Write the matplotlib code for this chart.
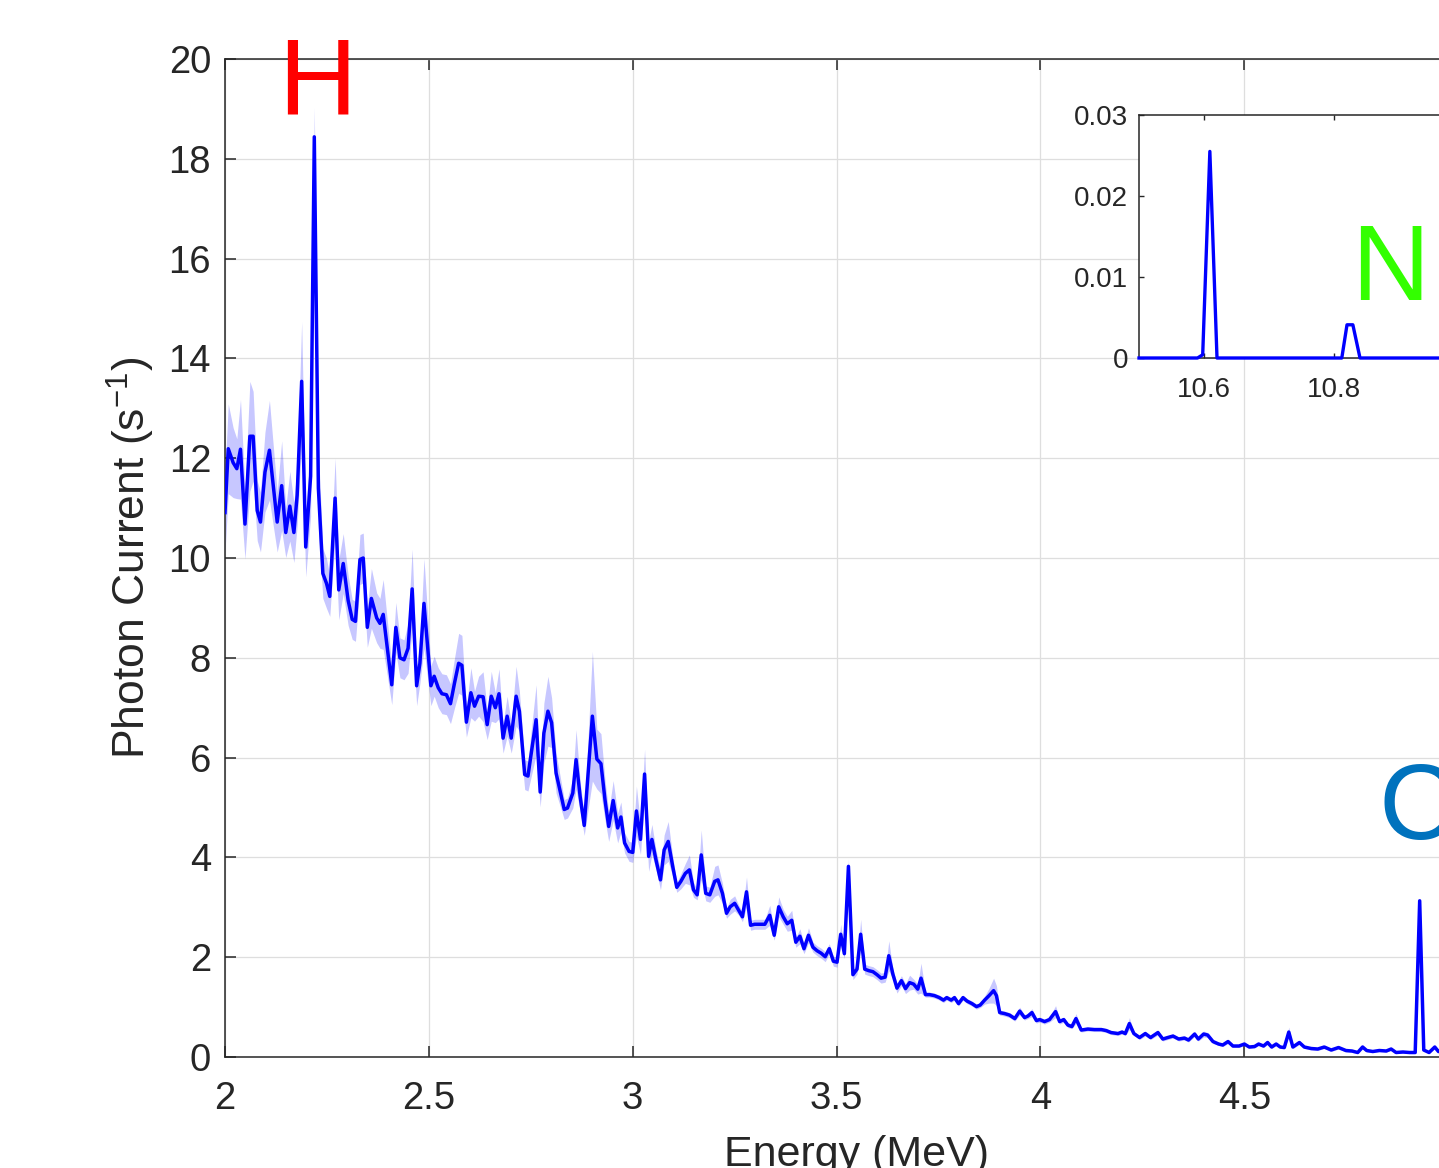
import numpy as np
import matplotlib
matplotlib.use('Agg')
import matplotlib.pyplot as plt

plt.rcParams['font.family'] = ['Liberation Sans', 'DejaVu Sans']
plt.rcParams['mathtext.fontset'] = 'custom'
plt.rcParams['mathtext.rm'] = 'Liberation Sans'
plt.rcParams['mathtext.it'] = 'Liberation Sans'
plt.rcParams['mathtext.default'] = 'regular'

# %% data
energy = [2.000, 2.008, 2.020, 2.029, 2.038, 2.049, 2.061, 2.069, 2.079, 2.087,
          2.098, 2.109, 2.128, 2.139, 2.149, 2.159, 2.169, 2.177, 2.188, 2.198,
          2.210, 2.219, 2.229, 2.240, 2.249, 2.257, 2.270, 2.279, 2.290, 2.302,
          2.312, 2.320, 2.331, 2.339, 2.349, 2.359, 2.372, 2.380, 2.388, 2.409,
          2.419, 2.429, 2.439, 2.449, 2.459, 2.470, 2.478, 2.488, 2.505, 2.513,
          2.523, 2.532, 2.543, 2.553, 2.563, 2.573, 2.581, 2.592, 2.603, 2.612,
          2.622, 2.633, 2.643, 2.653, 2.663, 2.672, 2.682, 2.692, 2.702, 2.714,
          2.722, 2.735, 2.743, 2.763, 2.773, 2.782, 2.792, 2.801, 2.812, 2.832,
          2.840, 2.853, 2.861, 2.871, 2.881, 2.901, 2.912, 2.922, 2.932, 2.941,
          2.952, 2.963, 2.971, 2.980, 2.991, 3.000, 3.009, 3.019, 3.029, 3.039,
          3.047, 3.057, 3.068, 3.077, 3.087, 3.098, 3.108, 3.118, 3.129, 3.139,
          3.149, 3.158, 3.168, 3.179, 3.189, 3.201, 3.209, 3.220, 3.230, 3.239,
          3.250, 3.260, 3.269, 3.279, 3.289, 3.299, 3.312, 3.324, 3.336, 3.347,
          3.358, 3.369, 3.379, 3.390, 3.400, 3.410, 3.420, 3.431, 3.442, 3.452,
          3.462, 3.472, 3.482, 3.492, 3.501, 3.510, 3.519, 3.529, 3.540, 3.550,
          3.559, 3.569, 3.579, 3.589, 3.599, 3.609, 3.619, 3.628, 3.638, 3.648,
          3.659, 3.669, 3.679, 3.689, 3.699, 3.707, 3.718, 3.728, 3.740, 3.752,
          3.762, 3.770, 3.781, 3.789, 3.799, 3.810, 3.820, 3.832, 3.843, 3.852,
          3.863, 3.874, 3.885, 3.892, 3.900, 3.912, 3.924, 3.937, 3.949, 3.961,
          3.969, 3.979, 3.990, 3.998, 4.010, 4.022, 4.037, 4.047, 4.057, 4.067,
          4.077, 4.087, 4.100, 4.116, 4.132, 4.149, 4.161, 4.173, 4.190, 4.200,
          4.208, 4.218, 4.229, 4.243, 4.257, 4.270, 4.288, 4.300, 4.312, 4.325,
          4.339, 4.353, 4.363, 4.378, 4.387, 4.400, 4.410, 4.423, 4.437, 4.447,
          4.460, 4.472, 4.487, 4.500, 4.512, 4.525, 4.535, 4.547, 4.557, 4.567,
          4.578, 4.588, 4.598, 4.609, 4.619, 4.635, 4.647, 4.664, 4.680, 4.696,
          4.713, 4.731, 4.749, 4.764, 4.778, 4.790, 4.800, 4.815, 4.831, 4.848,
          4.860, 4.872, 4.889, 4.905, 4.919, 4.930, 4.940, 4.953, 4.967, 4.976,
          5.000, 5.020, 5.050, 5.100]

current = [10.91, 12.19, 11.91, 11.79, 12.18, 10.68, 12.44, 12.44, 10.95, 10.72,
           11.72, 12.16, 10.72, 11.45, 10.51, 11.04, 10.51, 11.26, 13.54, 10.22,
           11.64, 18.44, 11.40, 9.69, 9.49, 9.23, 11.20, 9.36, 9.89, 9.15,
           8.77, 8.73, 9.97, 10.00, 8.61, 9.19, 8.80, 8.69, 8.87, 7.46,
           8.61, 8.00, 7.96, 8.19, 9.38, 7.44, 7.89, 9.09, 7.44, 7.63,
           7.40, 7.28, 7.26, 7.08, 7.50, 7.89, 7.85, 6.71, 7.30, 7.03,
           7.23, 7.22, 6.66, 7.23, 7.00, 7.28, 6.39, 6.83, 6.39, 7.23,
           6.93, 5.66, 5.63, 6.76, 5.31, 6.49, 6.93, 6.70, 5.69, 4.96,
           4.99, 5.29, 5.96, 5.22, 4.64, 6.83, 5.97, 5.88, 5.15, 4.62,
           5.14, 4.59, 4.81, 4.29, 4.12, 4.10, 4.93, 4.36, 5.67, 4.02,
           4.36, 3.95, 3.55, 4.15, 4.32, 3.82, 3.40, 3.52, 3.68, 3.75,
           3.35, 3.25, 4.05, 3.28, 3.25, 3.52, 3.55, 3.28, 2.88, 3.01,
           3.08, 2.94, 2.81, 3.31, 2.64, 2.66, 2.66, 2.66, 2.84, 2.44,
           3.01, 2.81, 2.67, 2.74, 2.30, 2.42, 2.17, 2.44, 2.20, 2.13,
           2.08, 2.01, 2.17, 1.92, 1.90, 2.46, 2.07, 3.82, 1.65, 1.76,
           2.46, 1.76, 1.73, 1.71, 1.65, 1.58, 1.60, 2.03, 1.66, 1.38,
           1.53, 1.37, 1.49, 1.46, 1.36, 1.58, 1.25, 1.25, 1.23, 1.19,
           1.14, 1.19, 1.14, 1.19, 1.07, 1.19, 1.12, 1.07, 1.01, 1.04,
           1.14, 1.23, 1.33, 1.23, 0.89, 0.87, 0.84, 0.77, 0.92, 0.79,
           0.82, 0.89, 0.73, 0.75, 0.71, 0.75, 0.91, 0.71, 0.75, 0.64,
           0.61, 0.77, 0.54, 0.56, 0.55, 0.55, 0.53, 0.49, 0.47, 0.50,
           0.47, 0.67, 0.47, 0.39, 0.47, 0.39, 0.49, 0.36, 0.39, 0.42,
           0.36, 0.38, 0.34, 0.46, 0.36, 0.46, 0.44, 0.31, 0.26, 0.24,
           0.31, 0.22, 0.22, 0.26, 0.20, 0.21, 0.26, 0.22, 0.29, 0.20,
           0.26, 0.20, 0.19, 0.50, 0.20, 0.29, 0.20, 0.17, 0.16, 0.20,
           0.14, 0.19, 0.13, 0.12, 0.09, 0.20, 0.13, 0.11, 0.13, 0.12,
           0.16, 0.09, 0.10, 0.09, 0.09, 3.13, 0.14, 0.09, 0.20, 0.11,
           0.10, 0.12, 0.09, 0.10]

current_err = [0.8, 0.9, 0.7, 0.6, 1.0, 0.7, 1.1, 0.9, 0.6, 0.6,
               0.8, 1.0, 0.6, 0.9, 0.5, 0.7, 0.6, 0.6, 1.2, 0.6,
               0.8, 0.6, 0.8, 0.5, 0.5, 0.4, 0.8, 0.6, 0.6, 0.5,
               0.4, 0.4, 0.5, 0.5, 0.4, 0.6, 0.5, 0.5, 0.7, 0.4,
               0.5, 0.4, 0.4, 0.5, 0.8, 0.4, 0.4, 0.9, 0.4, 0.4,
               0.4, 0.4, 0.4, 0.4, 0.5, 0.6, 0.6, 0.3, 0.5, 0.3,
               0.4, 0.5, 0.3, 0.5, 0.3, 0.5, 0.3, 0.4, 0.3, 0.6,
               0.4, 0.3, 0.3, 0.7, 0.3, 0.6, 0.7, 0.5, 0.4, 0.2,
               0.2, 0.3, 0.6, 0.3, 0.2, 1.3, 0.6, 0.6, 0.4, 0.3,
               0.4, 0.3, 0.3, 0.2, 0.2, 0.2, 0.5, 0.3, 0.5, 0.3,
               0.3, 0.2, 0.2, 0.3, 0.4, 0.2, 0.1, 0.15, 0.2, 0.3,
               0.15, 0.1, 0.5, 0.15, 0.15, 0.3, 0.3, 0.2, 0.1, 0.15,
               0.15, 0.1, 0.1, 0.3, 0.1, 0.1, 0.1, 0.1, 0.2, 0.1,
               0.2, 0.15, 0.15, 0.2, 0.1, 0.15, 0.1, 0.15, 0.1, 0.1,
               0.1, 0.1, 0.1, 0.1, 0.1, 0.2, 0.1, 0.15, 0.1, 0.1,
               0.3, 0.1, 0.1, 0.1, 0.1, 0.1, 0.1, 0.3, 0.1, 0.1,
               0.1, 0.1, 0.15, 0.1, 0.1, 0.3, 0.05, 0.05, 0.05, 0.05,
               0.05, 0.05, 0.05, 0.05, 0.05, 0.05, 0.05, 0.05, 0.05, 0.05,
               0.08, 0.15, 0.25, 0.2, 0.05, 0.05, 0.05, 0.05, 0.08, 0.05,
               0.05, 0.08, 0.05, 0.05, 0.05, 0.05, 0.12, 0.05, 0.05, 0.05,
               0.04, 0.1, 0.04, 0.04, 0.04, 0.04, 0.04, 0.04, 0.04, 0.04,
               0.04, 0.12, 0.04, 0.04, 0.05, 0.04, 0.05, 0.04, 0.04, 0.04,
               0.04, 0.04, 0.04, 0.05, 0.04, 0.06, 0.05, 0.04, 0.03, 0.03,
               0.04, 0.03, 0.03, 0.03, 0.03, 0.03, 0.03, 0.03, 0.04, 0.03,
               0.03, 0.03, 0.03, 0.1, 0.03, 0.04, 0.03, 0.03, 0.03, 0.03,
               0.03, 0.03, 0.03, 0.03, 0.02, 0.04, 0.03, 0.02, 0.02, 0.02,
               0.03, 0.02, 0.02, 0.02, 0.02, 0.05, 0.02, 0.02, 0.03, 0.02,
               0.02, 0.02, 0.02, 0.02]

# inset: nitrogen lines around 10.6-10.8 MeV
inset_energy = [10.50, 10.590, 10.598, 10.609, 10.620, 10.812, 10.820, 10.829, 10.840, 11.20]
inset_current = [0.0, 0.0, 0.0004, 0.0255, 0.0, 0.0, 0.0041, 0.0041, 0.0, 0.0]

x_ticks = [2, 2.5, 3, 3.5, 4, 4.5, 5]
x_tick_labels = ['2', '2.5', '3', '3.5', '4', '4.5', '5']
y_ticks = [0, 2, 4, 6, 8, 10, 12, 14, 16, 18, 20]
inset_x_ticks = [10.6, 10.8]
inset_y_ticks = [0, 0.01, 0.02, 0.03]

# %% figure
W, H = 1439, 1168
fig = plt.figure(figsize=(W / 100, H / 100), dpi=100)
fig.patch.set_facecolor('white')

text_col = '#262626'
e = np.array(energy)
c = np.array(current)
err = np.array(current_err)

ax = fig.add_axes([225 / W, 111 / H, 1264 / W, 998 / H])
ax.fill_between(e, c - err, c + err, color=(0, 0, 1), alpha=0.22, lw=0, zorder=2)
ax.plot(e, c, color=(0, 0, 1), lw=2.5, zorder=3)
ax.set_xlim(2, 5.1)
ax.set_ylim(0, 20)
ax.set_xticks(x_ticks)
ax.set_xticklabels(x_tick_labels)
ax.set_yticks(y_ticks)
ax.grid(True, color='#dedede', lw=0.9)
ax.set_axisbelow(True)
ax.tick_params(direction='in', length=8, width=1.1, top=True, right=True,
               labelsize=27.5, colors=text_col, pad=17)
ax.tick_params(axis='y', pad=10)
for s in ax.spines.values():
    s.set_color(text_col)
    s.set_linewidth(1.1)
ax.set_xlabel('Energy (MeV)', fontsize=31, color=text_col, labelpad=13)
ax.set_ylabel('Photon Current (s$^{-1}$)', fontsize=32, color=text_col, labelpad=8)

ax.text(2.2255, 18.9, 'H', color=(1, 0, 0), fontsize=78, ha='center',
        va='baseline', clip_on=False, zorder=5)
ax.text(4.830, 4.36, 'C', color=(0, 0.447, 0.741), fontsize=78, ha='left',
        va='baseline', clip_on=False, zorder=5)

# %% inset
axi = fig.add_axes([1139 / W, 810 / H, 455 / W, 243 / H])
axi.set_facecolor('white')
axi.plot(inset_energy, inset_current, color=(0, 0, 1), lw=2.4, zorder=3,
         clip_on=False)
axi.set_xlim(10.5, 11.2)
axi.set_ylim(0, 0.03)
axi.set_xticks(inset_x_ticks)
axi.set_xticklabels(['10.6', '10.8'])
axi.set_yticks(inset_y_ticks)
axi.set_yticklabels(['0', '0.01', '0.02', '0.03'])
axi.tick_params(direction='in', length=3.5, width=1.0, top=True, right=True,
                labelsize=20, colors=text_col)
axi.tick_params(axis='x', pad=14)
axi.tick_params(axis='y', pad=8)
for s in axi.spines.values():
    s.set_color(text_col)
    s.set_linewidth(1.1)
axi.text(10.826, 0.00716, 'N', color=(0.2, 1, 0), fontsize=78, ha='left',
         va='baseline', clip_on=False, zorder=5)

fig.savefig('out.png', dpi=100)
